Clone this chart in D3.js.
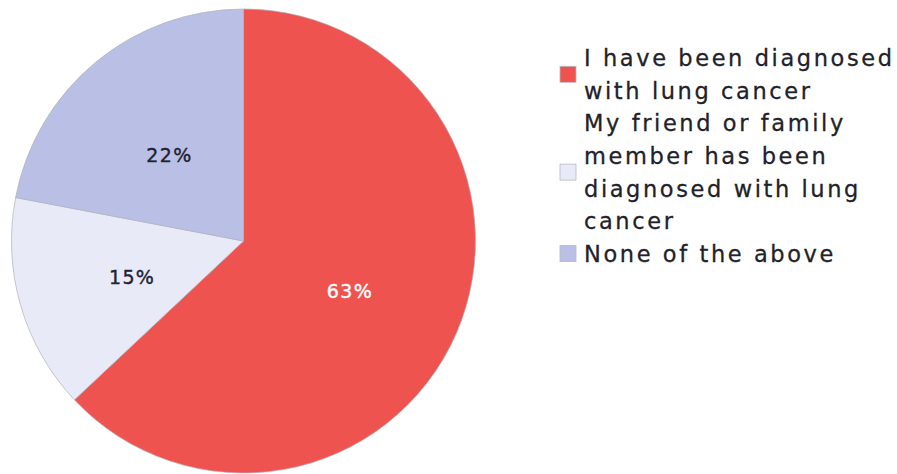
<!DOCTYPE html>
<meta charset="utf-8">
<script src="https://d3js.org/d3.v7.min.js"></script>
<style>
  body { margin: 0; background: #fff; }
  text { font-family: "DejaVu Sans", "Open Sans", sans-serif; }
</style>
<div id="chart"></div>
<script>
  var labels = ["I have been diagnosed with lung cancer",
                "My friend or family member has been diagnosed with lung cancer",
                "None of the above"];
  var legendLines = [["I have been diagnosed", "with lung cancer"],
                     ["My friend or family", "member has been", "diagnosed with lung", "cancer"],
                     ["None of the above"]];
  var values = [63, 15, 22];
  var colors = ["#ef5350", "#e8eaf8", "#bac0e5"];
  var textColors = ["#ffffff", "#1f2233", "#1f2233"];

  var width = 897, height = 474;
  var cx = 243.5, cy = 241, r = 232;

  var svg = d3.select("#chart").append("svg")
      .attr("width", width)
      .attr("height", height);

  var pie = d3.pie().sort(null).value(function(d) { return d; });
  var arc = d3.arc().innerRadius(0).outerRadius(r);
  var labelArc = d3.arc().innerRadius(r * 0.5).outerRadius(r * 0.5);

  var g = svg.append("g").attr("transform", "translate(" + cx + "," + cy + ")");

  var slices = g.selectAll("g.slice")
    .data(pie(values))
    .enter().append("g").attr("class", "slice");

  slices.append("path")
    .attr("d", arc)
    .attr("fill", function(d, i) { return colors[i]; })
    .attr("stroke", "#b0b0b8")
    .attr("stroke-width", 0.7);

  slices.append("text")
    .attr("transform", function(d) { return "translate(" + labelArc.centroid(d) + ")"; })
    .attr("text-anchor", "middle")
    .attr("dy", "0.55em")
    .attr("font-size", 19)
    .attr("fill", function(d, i) { return textColors[i]; })
    .attr("stroke", function(d, i) { return textColors[i]; })
    .attr("stroke-width", 0.4)
    .attr("letter-spacing", 1.4)
    .text(function(d) { return d.data + "%"; });

  // legend
  var lineH = 32.6, y0 = 58;
  var legend = svg.append("g");
  var row = 0;
  legendLines.forEach(function(lines, i) {
    var first = row;
    lines.forEach(function(t) {
      legend.append("text")
        .attr("x", 584)
        .attr("y", y0 + row * lineH)
        .attr("dy", "0.36em")
        .attr("font-size", 22.5)
        .attr("letter-spacing", 2.6)
        .attr("fill", "#1f2229")
        .attr("stroke", "#1f2229")
        .attr("stroke-width", 0.3)
        .text(t);
      row++;
    });
    var mid = y0 + ((first + row - 1) / 2) * lineH;
    legend.append("rect")
      .attr("x", 560).attr("y", mid - 8)
      .attr("width", 16).attr("height", 16)
      .attr("fill", colors[i])
      .attr("stroke", "#b8b8c0")
      .attr("stroke-width", 0.8);
  });
</script>
